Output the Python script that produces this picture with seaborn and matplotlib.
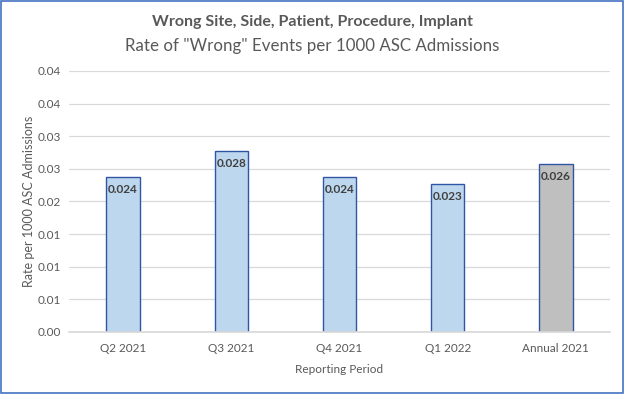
import matplotlib
matplotlib.use("Agg")
import matplotlib.pyplot as plt
import seaborn as sns
import pandas as pd
import numpy as np
from matplotlib.patches import Rectangle

periods = ["Q2 2021", "Q3 2021", "Q4 2021", "Q1 2022", "Annual 2021"]
rates = [0.0238, 0.0278, 0.0238, 0.0227, 0.0258]
kinds = ["Quarter", "Quarter", "Quarter", "Quarter", "Annual"]
ytick_values = [0.0, 0.005, 0.01, 0.015, 0.02, 0.025, 0.03, 0.035, 0.04]

df = pd.DataFrame({"period": periods, "rate": rates, "kind": kinds})

sns.set_theme(style="white")
plt.rcParams["font.family"] = ["Lato", "DejaVu Sans"]

fig = plt.figure(figsize=(6.24, 3.94), dpi=100)
ax = fig.add_axes([0.1106, 0.1574, 0.8670, 0.6624])

sns.barplot(data=df, x="period", y="rate", hue="kind",
            palette={"Quarter": "#BDD7EE", "Annual": "#BFBFBF"},
            saturation=1, edgecolor="#2F55A4", linewidth=1.0, width=0.31,
            dodge=False, legend=False, ax=ax)

ax.set_ylim(0, 0.04)
ax.set_xlim(-0.5, len(periods) - 0.5)
ax.set_yticks(ytick_values)
ax.set_yticklabels([f"{v:.2f}" for v in ytick_values])
ax.tick_params(axis="y", length=0, labelsize=8.5, labelcolor="#595959", pad=6)
ax.tick_params(axis="x", length=0, labelsize=8.5, labelcolor="#595959", pad=8)
ax.yaxis.grid(True, color="#D9D9D9", linewidth=0.9)
ax.set_axisbelow(True)
for s in ["top", "right", "left"]:
    ax.spines[s].set_visible(False)
ax.spines["bottom"].set_color("#D9D9D9")

ax.set_xlabel("Reporting Period", fontsize=8.5, color="#595959", labelpad=7)
ax.set_ylabel("Rate per 1000 ASC Admissions", fontsize=9, color="#595959", labelpad=2)

for i, v in enumerate(rates):
    ax.annotate(f"{v:.3f}", xy=(i, v), xytext=(0, -5), textcoords="offset points",
                ha="center", va="top", fontsize=8.5, fontweight="bold", color="#404040")

fig.text(0.5, 0.944, "Wrong Site, Side, Patient, Procedure, Implant",
         ha="center", va="center", fontsize=11.5, fontweight="bold", color="#595959")
fig.text(0.5, 0.884, 'Rate of "Wrong" Events per 1000 ASC Admissions',
         ha="center", va="center", fontsize=12.2, color="#595959")

fig.patches.append(Rectangle((0.0015, 0.0025), 0.997, 0.995, transform=fig.transFigure,
                             fill=False, edgecolor="#4472C4", linewidth=1.2))

fig.savefig("out.png", dpi=100, facecolor="white")
